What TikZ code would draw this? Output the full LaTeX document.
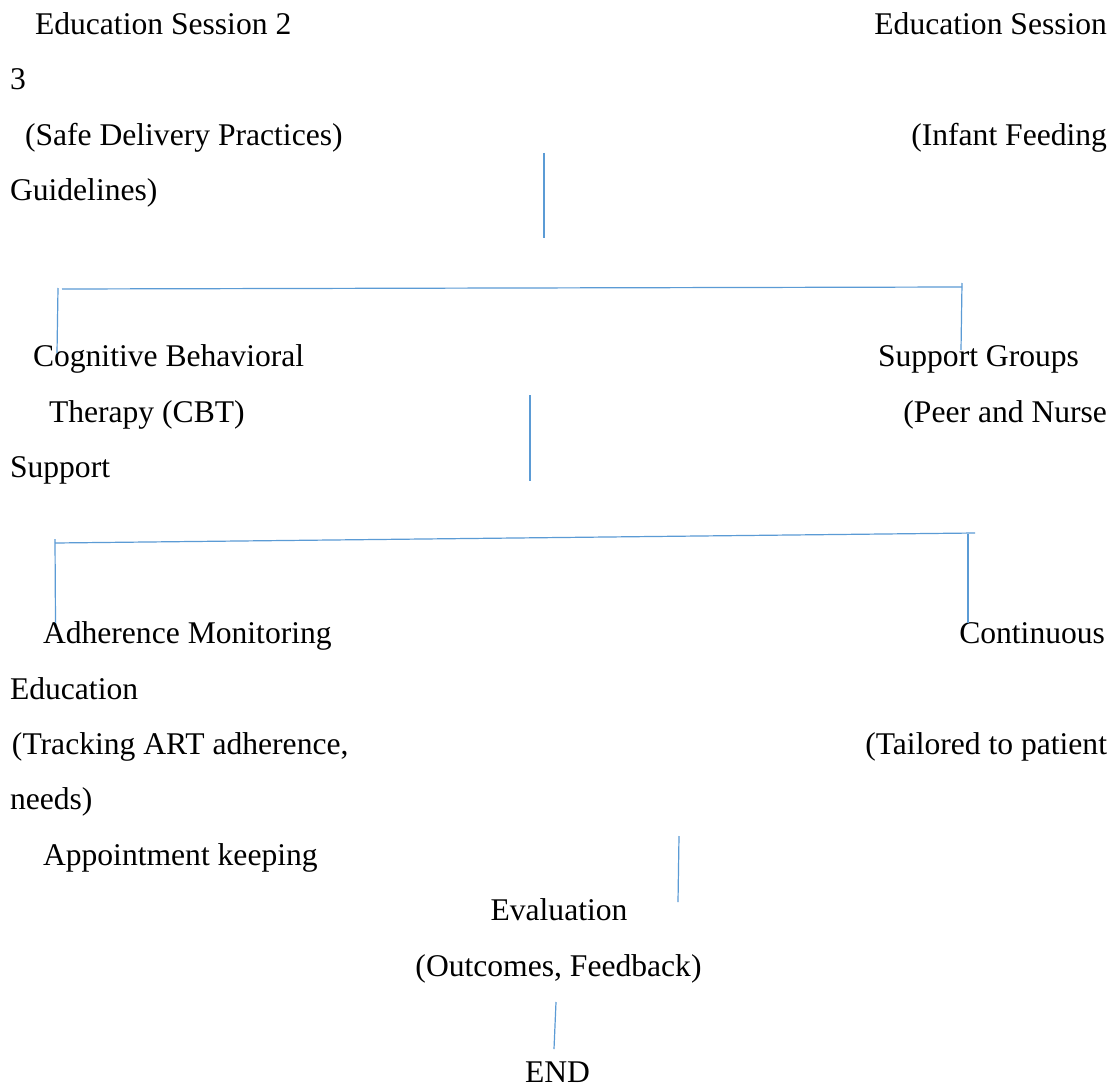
\documentclass[tikz,border=0pt]{standalone}
\usepackage{fontspec}
\setmainfont{Liberation Serif}
\definecolor{linkblue}{HTML}{5B9BD5}
\begin{document}
\begin{tikzpicture}[x=1pt,y=-1pt,
  txt/.style={inner sep=0pt,outer sep=0pt,font=\fontsize{31.6}{38}\selectfont},
  lft/.style={txt,anchor=base west},
  rgt/.style={txt,anchor=base east},
  mid/.style={txt,anchor=base},
  link/.style={draw=linkblue,line width=1.2pt}]
\useasboundingbox[fill=white] (0,0) rectangle (1119,1089);

% text lines (baselines on a 55.4 pt grid)
\node[lft] (es2)  at (35,35)    {Education Session 2};
\node[rgt] (es3)  at (1107,35)  {Education Session};
\node[lft] (n3)   at (10,90)    {3};
\node[lft] (sdp)  at (25,145.4) {(Safe Delivery Practices)};
\node[rgt] (ifg)  at (1107,145.4) {(Infant Feeding};
\node[lft] (gl)   at (10,200.8) {Guidelines)};

\node[lft] (cbt1) at (33,366.8) {Cognitive Behavioral};
\node[lft] (sg1)  at (878,366.8) {Support Groups};
\node[lft] (cbt2) at (49,422.2) {Therapy (CBT)};
\node[rgt] (sg2)  at (1107,422.2) {(Peer and Nurse};
\node[lft] (sg3)  at (10,477.6) {Support};

\node[lft] (am1)  at (43,643.6) {Adherence Monitoring};
\node[rgt] (ce1)  at (1105,643.6) {Continuous};
\node[lft] (ce2)  at (10,699) {Education};
\node[lft] (am2)  at (12,754.4) {(Tracking ART adherence,};
\node[rgt] (ce3)  at (1107,754.4) {(Tailored to patient};
\node[lft] (ce4)  at (10,809.8) {needs)};
\node[lft] (am3)  at (43,865.2) {Appointment keeping};
\node[mid] (ev1)  at (559,920.6) {Evaluation};
\node[mid] (ev2)  at (558.5,976) {(Outcomes, Feedback)};
\node[mid] (fin)  at (557.5,1082) {END};

% connector end points
\coordinate (a1) at (544,153);  \coordinate (a2) at (544,238);
\coordinate (b1) at (62,289);   \coordinate (b2) at (962,287);
\coordinate (b3) at (58,288);   \coordinate (b4) at (57,353);
\coordinate (b5) at (962,283);  \coordinate (b6) at (961,350);
\coordinate (c1) at (530,395);  \coordinate (c2) at (530,481);
\coordinate (d1) at (55,543);   \coordinate (d2) at (975,533);
\coordinate (d3) at (55,539);   \coordinate (d4) at (55.5,623);
\coordinate (d5) at (968,534);  \coordinate (d6) at (968,623);
\coordinate (e1) at (679,836);  \coordinate (e2) at (678,902);
\coordinate (f1) at (556,1002); \coordinate (f2) at (554,1049);

% connectors
\draw[link] (a1) -- (a2);
\draw[link] (b1) -- (b2);
\draw[link] (b3) -- (b4);
\draw[link] (b5) -- (b6);
\draw[link] (c1) -- (c2);
\draw[link] (d1) -- (d2);
\draw[link] (d3) -- (d4);
\draw[link] (d5) -- (d6);
\draw[link] (e1) -- (e2);
\draw[link] (f1) -- (f2);
\end{tikzpicture}
\end{document}
